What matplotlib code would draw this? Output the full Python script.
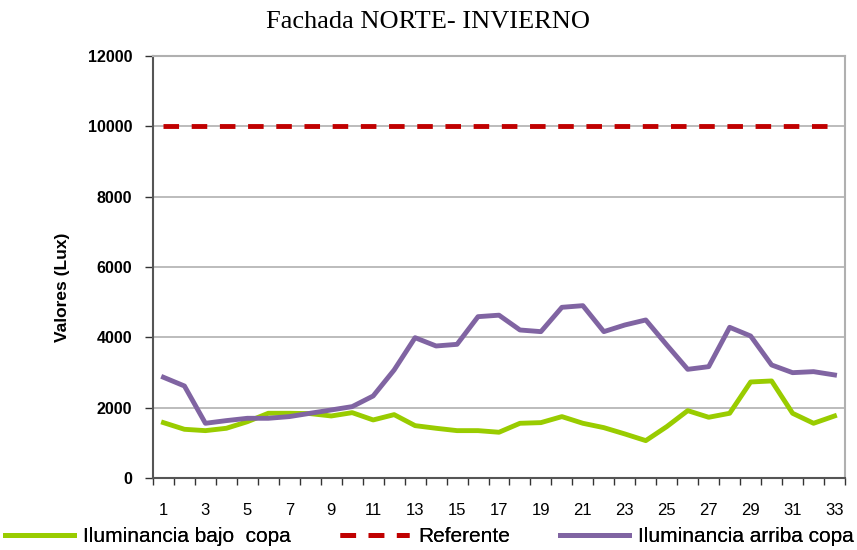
import matplotlib.pyplot as plt
import numpy as np

# data
dias = list(range(1, 34))
bajo_copa = [1574, 1384, 1346, 1413, 1600, 1840, 1840, 1830, 1763, 1858, 1650,
             1801, 1488, 1413, 1346, 1346, 1300, 1555, 1574, 1745, 1555, 1431,
             1252, 1062, 1460, 1915, 1726, 1840, 2730, 2759, 1840, 1555, 1763]
arriba_copa = [2864, 2616, 1555, 1631, 1697, 1697, 1745, 1840, 1934, 2029, 2332,
               3071, 3990, 3754, 3801, 4588, 4630, 4209, 4162, 4854, 4901, 4162,
               4351, 4494, 3783, 3090, 3166, 4285, 4038, 3214, 2995, 3024, 2930]
referente = [10000] * 33
x_labels = [str(d) for d in dias[::2]]

plt.rcParams['font.family'] = ['Liberation Sans', 'DejaVu Sans']

fig = plt.figure(figsize=(8.57, 5.5), dpi=100)
ax = fig.add_axes([0.1785, 0.131, 0.8075, 0.767])

l1, = ax.plot(dias, bajo_copa, color='#99CC00', lw=3.5, label='Iluminancia bajo  copa')
l2, = ax.plot(dias, referente, color='#C00000', lw=3.5, ls=(0, (3.2, 2.6)), label='Referente')
l3, = ax.plot(dias, arriba_copa, color='#8064A2', lw=3.5, label='Iluminancia arriba copa')

ax.set_xlim(0.5, 33.5)
ax.set_ylim(0, 12000)
ax.set_yticks(np.arange(0, 12001, 2000))
ax.set_yticklabels([str(v) for v in range(0, 12001, 2000)], fontsize=11.5, fontweight='bold')
ax.set_xticks(dias[::2])
ax.set_xticklabels(x_labels, fontsize=12)
ax.set_xticks(np.arange(0.5, 34, 1), minor=True)
ax.tick_params(axis='x', which='major', length=0, pad=18)
ax.tick_params(axis='x', which='minor', length=5, width=1, color='#333333')
ax.tick_params(axis='y', length=6, width=1, color='#333333', pad=9)

ax.grid(axis='y', color='#B0B0B0', lw=1.2)
ax.set_axisbelow(True)
for s in ['left', 'bottom']:
    ax.spines[s].set_color('#555555')
    ax.spines[s].set_linewidth(1.5)
for s in ['top', 'right']:
    ax.spines[s].set_color('#B0B0B0')
    ax.spines[s].set_linewidth(1.5)

ax.set_ylabel('Valores (Lux)', fontsize=12.5, fontweight='bold')
ax.yaxis.set_label_coords(-0.12, 0.453)
fig.text(0.5, 0.96, 'Fachada NORTE- INVIERNO', fontsize=19, ha='center', va='center',
         family=['Liberation Serif', 'DejaVu Serif'])

# legend entries placed one by one like the original
for handle, x0 in [(l1, 5 / 857), (l2, 340 / 857), (l3, 560 / 857)]:
    leg = fig.legend([handle], [handle.get_label()], loc='center left',
                     bbox_to_anchor=(x0, 0.024), frameon=False, fontsize=15,
                     handlelength=3.3, handletextpad=0.45, borderpad=0, borderaxespad=0)
    fig.add_artist(leg)

fig.savefig('out.png', dpi=100)
